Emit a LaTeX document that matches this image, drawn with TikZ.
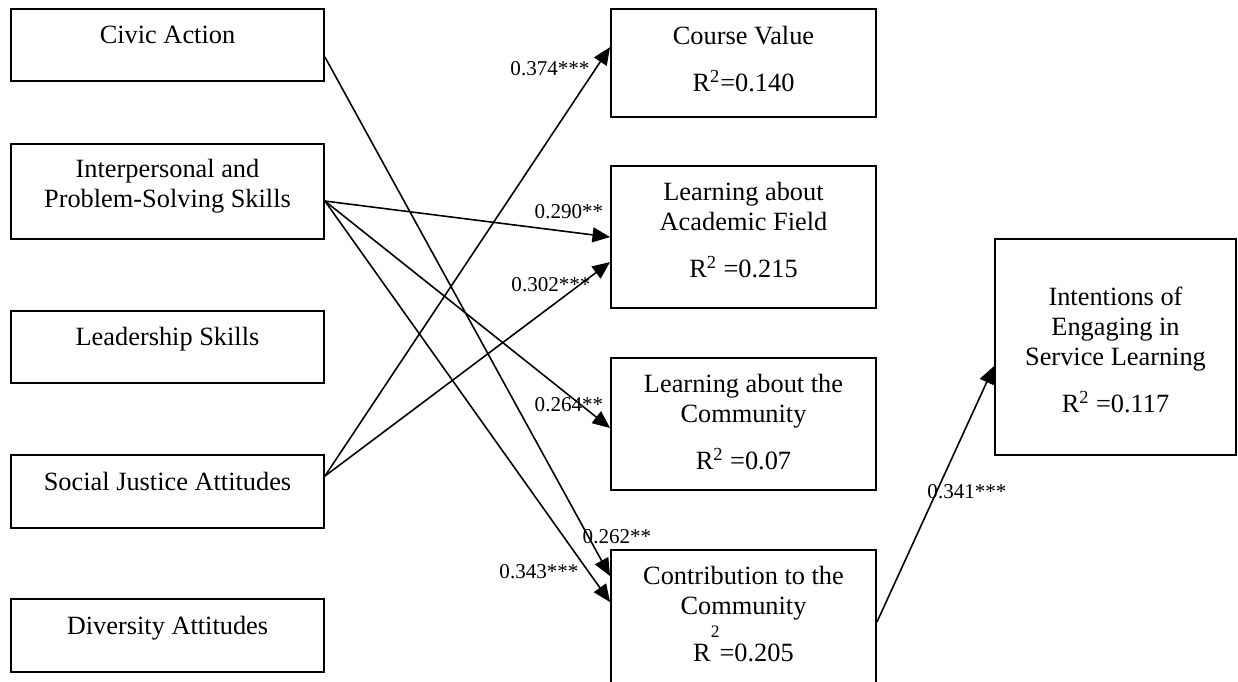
\documentclass[tikz,border=0pt]{standalone}
\usepackage{fontspec}
\setmainfont{Liberation Serif}
\usepackage{xcolor}
\usepackage{tikz}
\usetikzlibrary{calc,arrows.meta,positioning}
\definecolor{pathInk}{RGB}{0,0,0}
\tikzset{
  varbox/.style={draw=pathInk, line width=1.1pt, inner sep=0pt},
  vartext/.style={font=\fontsize{15}{17}\selectfont, align=center, inner sep=0pt},
  coef/.style={font=\fontsize{12}{14}\selectfont, inner sep=0pt},
  effect/.style={pathInk, line width=0.9pt, -{Triangle[length=10pt,width=8.5pt]}}
}

\begin{document}
\begin{tikzpicture}[x=0.02cm, y=-0.02cm]
\useasboundingbox (0,0) rectangle (1238,681);
% predictors
\node[varbox, minimum width=6.26cm, minimum height=1.44cm] (civic) at (167.5,45) {};
\node[varbox, minimum width=6.26cm, minimum height=1.9cm] (inter) at (167.5,191.5) {};
\node[varbox, minimum width=6.26cm, minimum height=1.44cm] (leader) at (167.5,347) {};
\node[varbox, minimum width=6.26cm, minimum height=1.46cm] (social) at (167.5,491.5) {};
\node[varbox, minimum width=6.26cm, minimum height=1.46cm] (divers) at (167.5,635.5) {};
\node[vartext, below=0.36cm of civic.north] (civicT) {Civic Action};
\node[vartext, below=0.32cm of inter.north] (interT) {Interpersonal and\\Problem-Solving Skills};
\node[vartext, below=0.34cm of leader.north] (leaderT) {Leadership Skills};
\node[vartext, below=0.36cm of social.north] (socialT) {Social Justice Attitudes};
\node[vartext, below=0.36cm of divers.north] (diversT) {Diversity Attitudes};
% outcomes
\node[varbox, minimum width=5.3cm, minimum height=2.16cm] (course) at (743.5,63) {};
\node[varbox, minimum width=5.3cm, minimum height=2.84cm] (academic) at (743.5,237) {};
\node[varbox, minimum width=5.3cm, minimum height=2.64cm] (commun) at (743.5,424) {};
\node[varbox, minimum width=5.3cm, minimum height=2.84cm] (contrib) at (743.5,621) {};
\node[vartext, below=0.36cm of course.north] (courseT) {Course Value\\[9.7pt]R\textsuperscript{2}=0.140};
\node[vartext, below=0.34cm of academic.north] (academicT) {Learning about\\Academic Field\\[9.7pt]R\textsuperscript{2} =0.215};
\node[vartext, below=0.34cm of commun.north] (communT) {Learning about the\\Community\\[9.7pt]R\textsuperscript{2} =0.07};
\node[vartext, below=0.34cm of contrib.north] (contribT) {Contribution to the\\Community\\[9.7pt]R\smash{\raisebox{13.5pt}{\fontsize{10}{10}\selectfont 2}}=0.205};
% final outcome
\node[varbox, minimum width=4.82cm, minimum height=4.32cm] (intent) at (1115.5,347) {};
\node[vartext, below=0.98cm of intent.north] (intentT) {Intentions of\\Engaging in\\Service Learning\\[9.7pt]R\textsuperscript{2} =0.117};
% paths
\draw[effect] ($(civic.north east)+(0,49)$) -- ($(contrib.north west)+(0,27)$);
\draw[effect] ($(inter.north east)+(0,58)$) -- ($(contrib.north west)+(0,53)$);
\draw[effect] ($(inter.north east)+(0,58)$) -- ($(academic.north west)+(0,72)$);
\draw[effect] ($(inter.north east)+(0,58)$) -- ($(commun.north west)+(0,71)$);
\draw[effect] ($(social.north east)+(0,22)$) -- ($(course.north west)+(0,39)$);
\draw[effect] ($(social.north east)+(0,22)$) -- ($(academic.north west)+(0,97)$);
\draw[effect] ($(contrib.north east)+(0,73)$) -- ($(intent.north west)+(0,128)$);
% coefficients
\node[coef] (b374) at (550,69) {0.374***};
\node[coef] (b290) at (569,212) {0.290**};
\node[coef] (b302) at (551,285) {0.302***};
\node[coef] (b264) at (569,405) {0.264**};
\node[coef] (b262) at (617,537) {0.262**};
\node[coef] (b343) at (539,572) {0.343***};
\node[coef] (b341) at (967,492) {0.341***};
\end{tikzpicture}
\end{document}
